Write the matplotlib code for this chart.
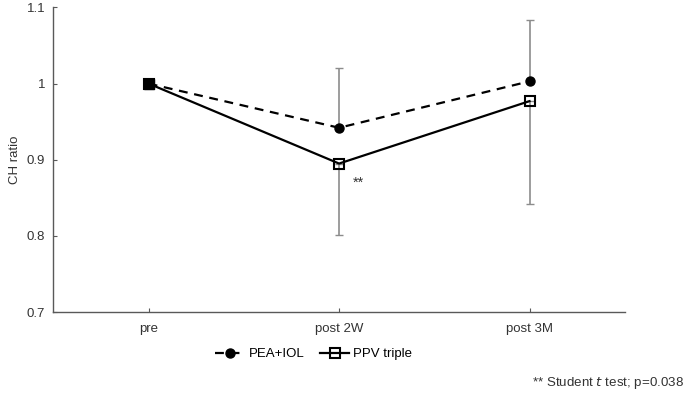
import numpy as np
import matplotlib.pyplot as plt

plt.rcParams['font.family'] = ['Liberation Sans', 'DejaVu Sans']

# data
categories = ['pre', 'post 2W', 'post 3M']
pea_iol = [1.0, 0.942, 1.003]
pea_err_up = [0.0, 0.079, 0.080]
ppv_triple = [1.0, 0.895, 0.977]
ppv_err_down = [0.0, 0.094, 0.135]
yticks = [0.7, 0.8, 0.9, 1.0, 1.1]
ytick_labels = ['0.7', '0.8', '0.9', '1', '1.1']

fig = plt.figure(figsize=(6.85, 3.93), dpi=100)
ax = fig.add_axes([0.078, 0.206, 0.834, 0.775])

x = np.arange(len(categories))
zeros = np.zeros(len(categories))

# error bars (grey, one-sided like the original)
ax.errorbar(x[1:], pea_iol[1:], yerr=[zeros[1:], pea_err_up[1:]], fmt='none',
            ecolor='#8c8c8c', elinewidth=1.2, capsize=3, capthick=1.0, zorder=1)
ax.errorbar(x[1:], ppv_triple[1:], yerr=[ppv_err_down[1:], zeros[1:]], fmt='none',
            ecolor='#8c8c8c', elinewidth=1.2, capsize=3, capthick=1.0, zorder=1)

ax.plot(x, pea_iol, color='black', linestyle=(0, (4, 3)), linewidth=1.6,
        marker='o', markersize=6.5, label='PEA+IOL', zorder=3)
ax.plot(x, ppv_triple, color='black', linestyle='-', linewidth=1.6,
        marker='s', markersize=6.5, markerfacecolor='none', markeredgewidth=1.5,
        label='PPV triple', zorder=4)
# both series start at the same point -> looks like one solid square
ax.plot(x[:1], ppv_triple[:1], linestyle='none', marker='s', markersize=7,
        color='black', zorder=5)

ax.text(x[1] + 0.07, ppv_triple[1] - 0.025, '**', fontsize=10.5, color='#333333',
        ha='left', va='center')

ax.set_xlim(-0.5, 2.5)
ax.set_ylim(0.7, 1.1)
ax.set_xticks(x)
ax.set_xticklabels(categories)
ax.set_yticks(yticks)
ax.set_yticklabels(ytick_labels)
ax.set_ylabel('CH ratio', fontsize=9.5, color='#333333')

for side in ['top', 'right']:
    ax.spines[side].set_visible(False)
for side in ['left', 'bottom']:
    ax.spines[side].set_color('#595959')
    ax.spines[side].set_linewidth(1.0)
ax.tick_params(axis='both', direction='in', length=3, color='#595959',
               labelsize=9.5, labelcolor='#333333')
ax.tick_params(axis='x', pad=8)
ax.tick_params(axis='y', pad=6)

fig.legend(loc='center', bbox_to_anchor=(0.458, 0.099), ncol=2, frameon=False,
           fontsize=9.5, handlelength=2.2, handletextpad=0.3, columnspacing=1.2)

fig.text(0.998, 0.025, r'** Student $\mathit{t}$ test; p=0.038', ha='right',
         va='center', fontsize=9.6, color='#333333')

fig.savefig('out.png', dpi=100)
